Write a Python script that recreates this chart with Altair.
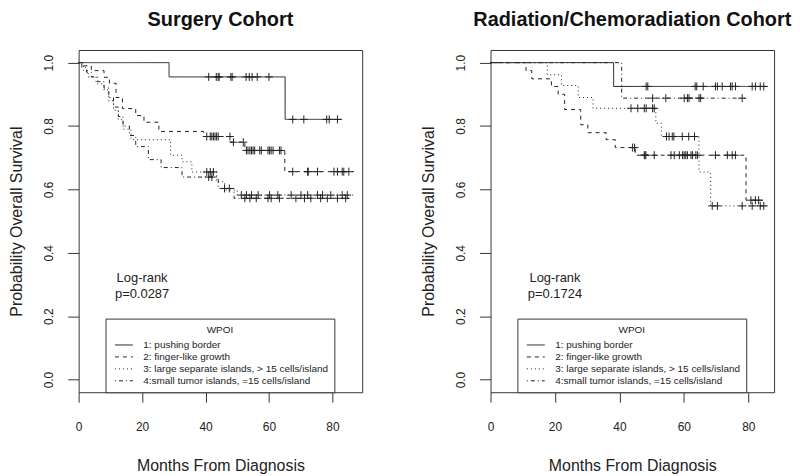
import altair as alt
import pandas as pd
import numpy as np

groups = [
    "1: pushing border",
    "2: finger-like growth",
    "3: large separate islands, > 15 cells/island",
    "4:small tumor islands, =15 cells/island",
]
dash_patterns = [[1, 0], [4, 4], [1, 3], [1, 3, 4, 3]]

# ---------------- Surgery cohort (months, survival step points; censor months)
surg_g1_t = [0, 28.5, 65.1, 83.1]
surg_g1_s = [1.0, 0.955, 0.821, 0.821]
surg_g1_c = [41, 43.4, 44, 44.3, 48, 48.4, 52.8, 53.8, 54.7, 56.3, 60,
             67.5, 71, 78.2, 79, 81.6]

surg_g2_t = [0, 1, 4, 8, 9.7, 11.8, 13.8, 18, 20.6, 25.3, 39.4, 48, 52.4, 65, 86.8]
surg_g2_s = [1.0, 0.99, 0.975, 0.954, 0.935, 0.89, 0.855, 0.833, 0.812, 0.783,
             0.767, 0.749, 0.723, 0.656, 0.656]
surg_g2_c = [40.4, 41.5, 42, 42.5, 43, 43.5, 44, 47.7, 48.8, 51.9, 52.9, 53.4,
             54, 54.5, 55, 55.5, 57.1, 57.6, 59.7, 60.2, 60.7, 61.3, 63.3, 63.8,
             67.5, 72.2, 72.4, 75.3, 80.5, 81.6, 83.1, 83.6, 85.2]

surg_g3_t = [0, 1.5, 3, 5.5, 8, 9.5, 11, 12.5, 14, 16.5, 29, 32.6, 35.7, 43.5, 46, 50, 87]
surg_g3_s = [1.0, 0.975, 0.955, 0.933, 0.914, 0.88, 0.85, 0.82, 0.79, 0.757,
             0.708, 0.687, 0.655, 0.624, 0.598, 0.582, 0.582]
surg_g3_c = [40.4, 41.5, 42.5, 51.3, 52.9, 54.5, 56.6, 60.2, 62.8, 67, 70.1,
             72.2, 75.3, 76.9, 79.5, 83.1, 84.7]

surg_g4_t = [0, 1, 2.5, 4, 6, 8, 9.5, 11, 12.5, 14, 16, 18, 22, 26, 32.6, 44, 49, 86]
surg_g4_s = [1.0, 0.985, 0.97, 0.955, 0.94, 0.92, 0.89, 0.86, 0.83, 0.80, 0.77,
             0.735, 0.694, 0.669, 0.639, 0.603, 0.572, 0.572]
surg_g4_c = [41, 42, 46, 47.5, 52.4, 54, 56, 59.7, 60.7, 63.3, 68.5, 71.2, 73.2,
             76.3, 78.4, 81.6, 84.2]

# ---------------- Radiation/Chemoradiation cohort
rad_g1_t = [0, 38.2, 86]
rad_g1_s = [1.0, 0.925, 0.925]
rad_g1_c = [48.3, 48.8, 63.5, 64, 66, 69.8, 70.4, 71.9, 74.5, 75, 76, 81.2,
            82.2, 83.7, 84.8]

rad_g2_t = [0, 11, 12.8, 18.9, 21, 23, 28, 30.2, 35.9, 38.7, 44.9, 79.3, 85.8]
rad_g2_s = [1.0, 0.975, 0.949, 0.925, 0.90, 0.852, 0.804, 0.779, 0.757, 0.732,
            0.708, 0.566, 0.566]
rad_g2_c = [44.1, 44.7, 47.7, 47.9, 48.2, 50.8, 56, 57, 58.6, 59.6, 60.1, 60.6,
            61.1, 62.2, 62.7, 63.7, 64.2, 69.8, 73.5, 75, 76, 80.8, 82.2, 83.2]

rad_g3_t = [0, 17.6, 22, 27.2, 31.8, 51.3, 53, 64.7, 68.3, 85.8]
rad_g3_s = [1.0, 0.962, 0.928, 0.89, 0.856, 0.809, 0.767, 0.655, 0.548, 0.548]
rad_g3_c = [43.6, 45.7, 47.7, 48.3, 50.3, 50.8, 54.6, 55.4, 56.4, 56.9, 59.5,
            61.5, 63.3, 68.8, 70.4, 78.1, 81.2, 83.7, 84.8]

rad_g4_t = [0, 40.7, 79.1]
rad_g4_s = [1.0, 0.888, 0.888]
rad_g4_c = [50.3, 54.4, 60.1, 61.1, 61.6, 64.7, 65.2, 78.1]

x_ticks = [0, 20, 40, 60, 80]
y_ticks = [0.0, 0.2, 0.4, 0.6, 0.8, 1.0]

INK = "#222222"
FRAME = "#333333"


def build(curves):
    rows, cens = [], []
    for g, (t, s, c) in zip(groups, curves):
        for ti, si in zip(t, s):
            rows.append({"time": ti, "surv": si, "group": g})
        t_arr = np.array(t, dtype=float)
        s_arr = np.array(s, dtype=float)
        for ci in c:
            idx = np.searchsorted(t_arr, ci, side="right") - 1
            cens.append({"time": ci, "surv": float(s_arr[idx]), "group": g})
    return pd.DataFrame(rows), pd.DataFrame(cens)


def panel(curves, title, xmax, pval):
    lines, cens = build(curves)
    xs = alt.Scale(domain=[0, xmax], nice=False, zero=False)
    ys = alt.Scale(domain=[-0.04, 1.04], nice=False, zero=False)
    xax = alt.Axis(values=x_ticks, title="Months From Diagnosis", grid=False,
                   domain=False, tickSize=10, labelPadding=19, titlePadding=26,
                   labelFontSize=12, titleFontSize=16, titleFontWeight="normal",
                   labelFlush=False)
    yax = alt.Axis(values=y_ticks, format=".1f", labelAngle=270,
                   title="Probability Overall Survival", grid=False,
                   domain=False, tickSize=11, labelPadding=12, titlePadding=18,
                   labelFontSize=12, titleFontSize=16, titleFontWeight="normal",
                   labelFlush=False)
    x = alt.X("time:Q", scale=xs, axis=xax)
    y = alt.Y("surv:Q", scale=ys, axis=yax)
    legend = alt.Legend(
        title="WPOI", orient="none", legendX=27, legendY=270,
        direction="vertical", titleAnchor="middle", titleFontSize=10,
        titleFontWeight="normal", titlePadding=4, labelFontSize=10,
        symbolType="M-0.5,0L2.5,0", symbolSize=144, symbolStrokeWidth=1,
        symbolStrokeColor=INK, labelOffset=19, rowPadding=0, padding=6,
        strokeColor=FRAME, fillColor="white", labelLimit=400, cornerRadius=0,
        labelColor=INK, titleColor=INK,
    )
    line = alt.Chart(lines).mark_line(
        interpolate="step-after", color=INK, strokeWidth=1
    ).encode(
        x=x, y=y,
        strokeDash=alt.StrokeDash(
            "group:N",
            scale=alt.Scale(domain=groups, range=dash_patterns),
            legend=legend,
        ),
        order="time:Q",
    )
    ticks = alt.Chart(cens).mark_point(
        shape="M-1,0L1,0M0,-1L0,1", size=64, filled=False, color=INK,
        strokeWidth=1, opacity=1,
    ).encode(x="time:Q", y="surv:Q")
    txt = alt.Chart(
        pd.DataFrame({"time": [20], "surv": [0.321],
                      "label": ["Log-rank\np=" + pval]})
    ).mark_text(
        lineBreak="\n", fontSize=13, lineHeight=16, color=INK,
        align="center", baseline="middle",
    ).encode(x="time:Q", y="surv:Q", text="label:N")
    return alt.layer(line, ticks, txt).properties(
        width=285, height=344,
        title=alt.TitleParams(title, fontSize=20, fontWeight="bold",
                              offset=20, anchor="middle", color="#111111"),
    )


surg = panel(
    [(surg_g1_t, surg_g1_s, surg_g1_c), (surg_g2_t, surg_g2_s, surg_g2_c),
     (surg_g3_t, surg_g3_s, surg_g3_c), (surg_g4_t, surg_g4_s, surg_g4_c)],
    "Surgery Cohort", 89.4, "0.0287")
rad = panel(
    [(rad_g1_t, rad_g1_s, rad_g1_c), (rad_g2_t, rad_g2_s, rad_g2_c),
     (rad_g3_t, rad_g3_s, rad_g3_c), (rad_g4_t, rad_g4_s, rad_g4_c)],
    "Radiation/Chemoradiation Cohort", 88.0, "0.1724")

chart = alt.hconcat(surg, rad, spacing=57).resolve_scale(
    x="independent", y="independent", strokeDash="independent"
).resolve_legend(strokeDash="independent").properties(
    padding={"left": 0, "top": 0, "right": 0, "bottom": 0}
).configure(
    font="Liberation Sans"
).configure_view(
    stroke=FRAME, strokeWidth=1
).configure_axis(
    labelColor=INK, titleColor=INK, tickColor=FRAME, tickWidth=1
)

chart.save("out.html", embed_options={"renderer": "svg", "actions": False})
